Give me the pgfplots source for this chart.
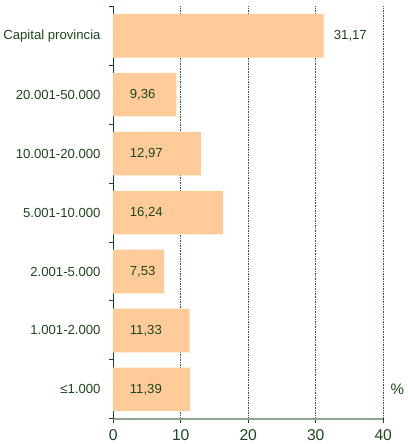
\documentclass[border=0pt]{standalone}
\usepackage{pgfplots}
\pgfplotsset{compat=1.18}
\usepackage{fontspec}
\setmainfont{Liberation Sans}
\definecolor{txt}{RGB}{30,70,30}
\definecolor{gridc}{RGB}{50,90,50}
\definecolor{barc}{RGB}{255,204,153}
\definecolor{botc}{RGB}{140,165,140}
\pgfplotsset{layers/mylayers/.define layer set={axis background,axis grid,main,axis ticks,axis lines,axis tick labels,axis descriptions,axis foreground}{}}
\begin{document}
\begin{tikzpicture}
\begin{axis}[
  set layers=mylayers,
  scale only axis, width=267pt, height=408pt,
  xmin=0, xmax=40, ymin=-0.5, ymax=6.5,
  clip=false,
  axis x line*=bottom, axis y line*=left,
  x axis line style={draw=botc, line width=1.4pt, -},
  y axis line style={draw=txt, line width=1.3pt, -},
  xtick={0,10,20,30,40},
  xmajorgrids,
  grid style={gridc, line width=0.5pt, dash pattern=on 1.5pt off 1pt},
  ytick={-0.5,0.5,1.5,2.5,3.5,4.5,5.5,6.5},
  yticklabels={},
  extra y ticks={0,1,2,3,4,5,6},
  extra y tick labels={≤1.000,1.001-2.000,2.001-5.000,5.001-10.000,10.001-20.000,20.001-50.000,Capital provincia},
  extra y tick style={yticklabel style={font=\fontsize{13}{15}\selectfont, text=txt, xshift=-5pt}, ytick style={draw=none}},
  major tick length=4pt,
  tick align=outside,
  ytick style={draw=txt, line width=1pt},
  xtick style={draw=txt, line width=1pt},
  /pgf/number format/assume math mode=true,
  xticklabel style={font=\fontsize{15.5}{18}\selectfont, text=txt, yshift=-3pt},
]
\addplot[xbar, bar width=0.74, fill=barc, draw=none]
  coordinates {(11.39,0) (11.33,1) (7.53,2) (16.24,3) (12.97,4) (9.36,5) (31.17,6)};
\addplot[draw=none, mark=none, nodes near coords, point meta=explicit symbolic,
  nodes near coords style={anchor=west, inner sep=0pt, text=txt, font=\fontsize{13}{15}\selectfont}]
  coordinates {(2.44,0) [11,39] (2.44,1) [11,33] (2.44,2) [7,53] (2.44,3) [16,24] (2.44,4) [12,97] (2.44,5) [9,36] (32.66,6) [31,17]};
\node[text=txt, font=\fontsize{15}{18}\selectfont] at (axis cs:42.1,0) {\%};
\path (axis cs:0,6.5) node[anchor=south, minimum height=6pt, inner sep=0pt] {};
\end{axis}
\end{tikzpicture}
\end{document}
